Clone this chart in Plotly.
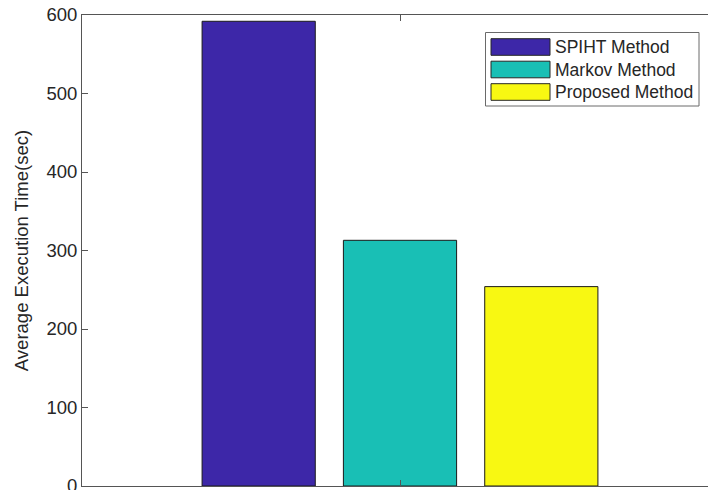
import plotly.graph_objects as go

methods = ["SPIHT Method", "Markov Method", "Proposed Method"]
exec_times = [592, 313, 254]
colors = ["#3D27A8", "#19BFB5", "#F8F812"]
y_ticks = [0, 100, 200, 300, 400, 500, 600]

# Plot area lands at x 82..708, y 15..486 in the 708x490 window
# (body margin removed via post_script).
W, H = 708, 490
L, R, T, B = 82, 0, 15, 4
pw, ph = W - L - R, H - T - B
FONT = "Liberation Sans, Arial, sans-serif"
TXT = "#262626"

# MATLAB grouped-bar geometry: group at x=1, xlim [0.5, 1.5] (right part cropped)
group_center = 1.0
offset_step = 0.2222
bar_width = 0.178
x_unit_px = 636.0  # pixels per x unit
xmin = 0.5
xmax = xmin + pw / x_unit_px

fig = go.Figure()
for i, (m, v, c) in enumerate(zip(methods, exec_times, colors)):
    fig.add_trace(go.Bar(
        x=[group_center + (i - 1) * offset_step], y=[v], width=bar_width,
        name=m, marker=dict(color=c, line=dict(color="#1a1a1a", width=1)),
        showlegend=False, hoverinfo="skip",
    ))

# window pixel -> paper coordinates
def px2x(px):
    return (px - L) / pw

def px2y(py):
    return (H - B - py) / ph

shapes = []
shapes.append(dict(type="rect", xref="paper", yref="paper",
                   x0=px2x(485.5), x1=px2x(699), y0=px2y(106), y1=px2y(32.5),
                   line=dict(color="#6a6a6a", width=1), fillcolor="white", layer="above"))
annotations = []
row_tops = [38.7, 61.2, 83.7]
for i, (m, c) in enumerate(zip(methods, colors)):
    top = row_tops[i]
    shapes.append(dict(type="rect", xref="paper", yref="paper",
                       x0=px2x(491), x1=px2x(550), y0=px2y(top + 16.6), y1=px2y(top),
                       line=dict(color="#262626", width=1), fillcolor=c, layer="above"))
    annotations.append(dict(xref="paper", yref="paper", x=px2x(553), y=px2y(top + 8.6),
                            text=m, showarrow=False, xanchor="left", yanchor="middle",
                            font=dict(family=FONT, size=17.5, color=TXT)))

fig.update_layout(
    width=W, height=H,
    margin=dict(l=L, r=R, t=T, b=B, autoexpand=False),
    paper_bgcolor="white", plot_bgcolor="white",
    barmode="overlay",
    shapes=shapes, annotations=annotations,
    font=dict(family=FONT, color=TXT),
    xaxis=dict(range=[xmin, xmax], tickvals=[group_center], showticklabels=False,
               ticks="inside", ticklen=6, tickcolor="#555", showline=True,
               linecolor="#555", linewidth=1, mirror="ticks", showgrid=False,
               zeroline=False, fixedrange=True),
    yaxis=dict(range=[0, 600], tickvals=y_ticks, ticks="inside", ticklen=6,
               tickcolor="#555", showline=True, linecolor="#555", linewidth=1,
               showgrid=False, zeroline=False, automargin=False,
               ticklabeloverflow="allow", fixedrange=True,
               tickfont=dict(family=FONT, size=18.5, color=TXT),
               title=dict(text="Average Execution Time(sec)", standoff=12,
                          font=dict(family=FONT, size=18.5, color=TXT))),
)

fig.write_html("out.html",
               config={"displayModeBar": False, "staticPlot": True},
               post_script="document.body.style.margin='0';document.body.style.overflow='hidden';")
